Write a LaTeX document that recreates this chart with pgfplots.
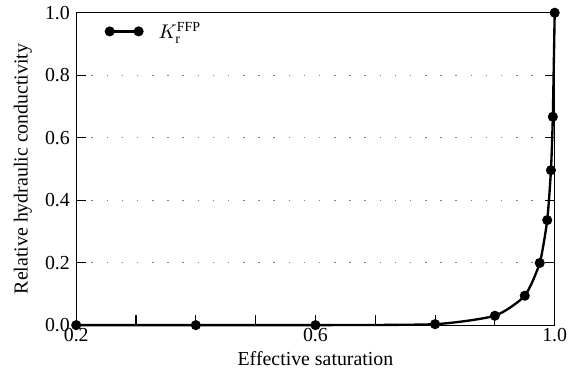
\documentclass[border=0pt]{standalone}
\usepackage{fontspec}
\setmainfont{Liberation Serif}
\usepackage{pgfplots}
\pgfplotsset{compat=1.18}
\begin{document}
\begin{tikzpicture}
\begin{axis}[
  scale only axis,
  width=265pt, height=173pt,
  xmin=0.2, xmax=1.0, ymin=0, ymax=1.0,
  xtick={0.2,0.3,0.4,0.5,0.6,0.7,0.8,0.9,1.0},
  xticklabels={0.2,,,,0.6,,,,1.0},
  ytick={0,0.2,0.4,0.6,0.8,1.0},
  yticklabels={0.0,0.2,0.4,0.6,0.8,1.0},
  xtick pos=bottom,
  ytick pos=both,
  tick align=inside,
  major tick length=5.5pt,
  tick style={black, line width=0.6pt},
  axis line style={line width=0.6pt},
  /pgf/number format/assume math mode=true,
  tick label style={font=\fontsize{11}{13}\selectfont},
  label style={font=\fontsize{11}{13}\selectfont},
  xticklabel style={yshift=2pt, inner xsep=0.5pt},
  ymajorgrids,
  grid style={gray, line width=0.6pt, dash pattern=on 0.8pt off 7.6pt},
  xlabel={Effective saturation},
  ylabel={Relative hydraulic conductivity},
  xlabel style={yshift=1pt},
  ylabel style={inner ysep=7.7pt, yshift=-4pt},
  clip=false,
  legend style={draw=none, fill=none, at={(0.05,0.995)}, anchor=north west, font=\fontsize{11}{13}\selectfont},
  legend cell align=left,
  legend image code/.code={\draw[#1] plot coordinates {(0pt,0pt) (16pt,0pt)};},
]
\addplot[black, line width=1.3pt, smooth, tension=0.35, mark=*, mark size=2.1pt] coordinates {
  (0.2,0) (0.4,0) (0.6,0) (0.8,0.003) (0.9,0.030) (0.95,0.094) (0.975,0.199)
  (0.9875,0.336) (0.99375,0.496) (0.996875,0.667) (1.0,1.0)
};
\addlegendentry{\hspace{7pt}$K_{\mathrm{r}}^{\mathrm{FFP}}$}
\end{axis}
\end{tikzpicture}
\end{document}
